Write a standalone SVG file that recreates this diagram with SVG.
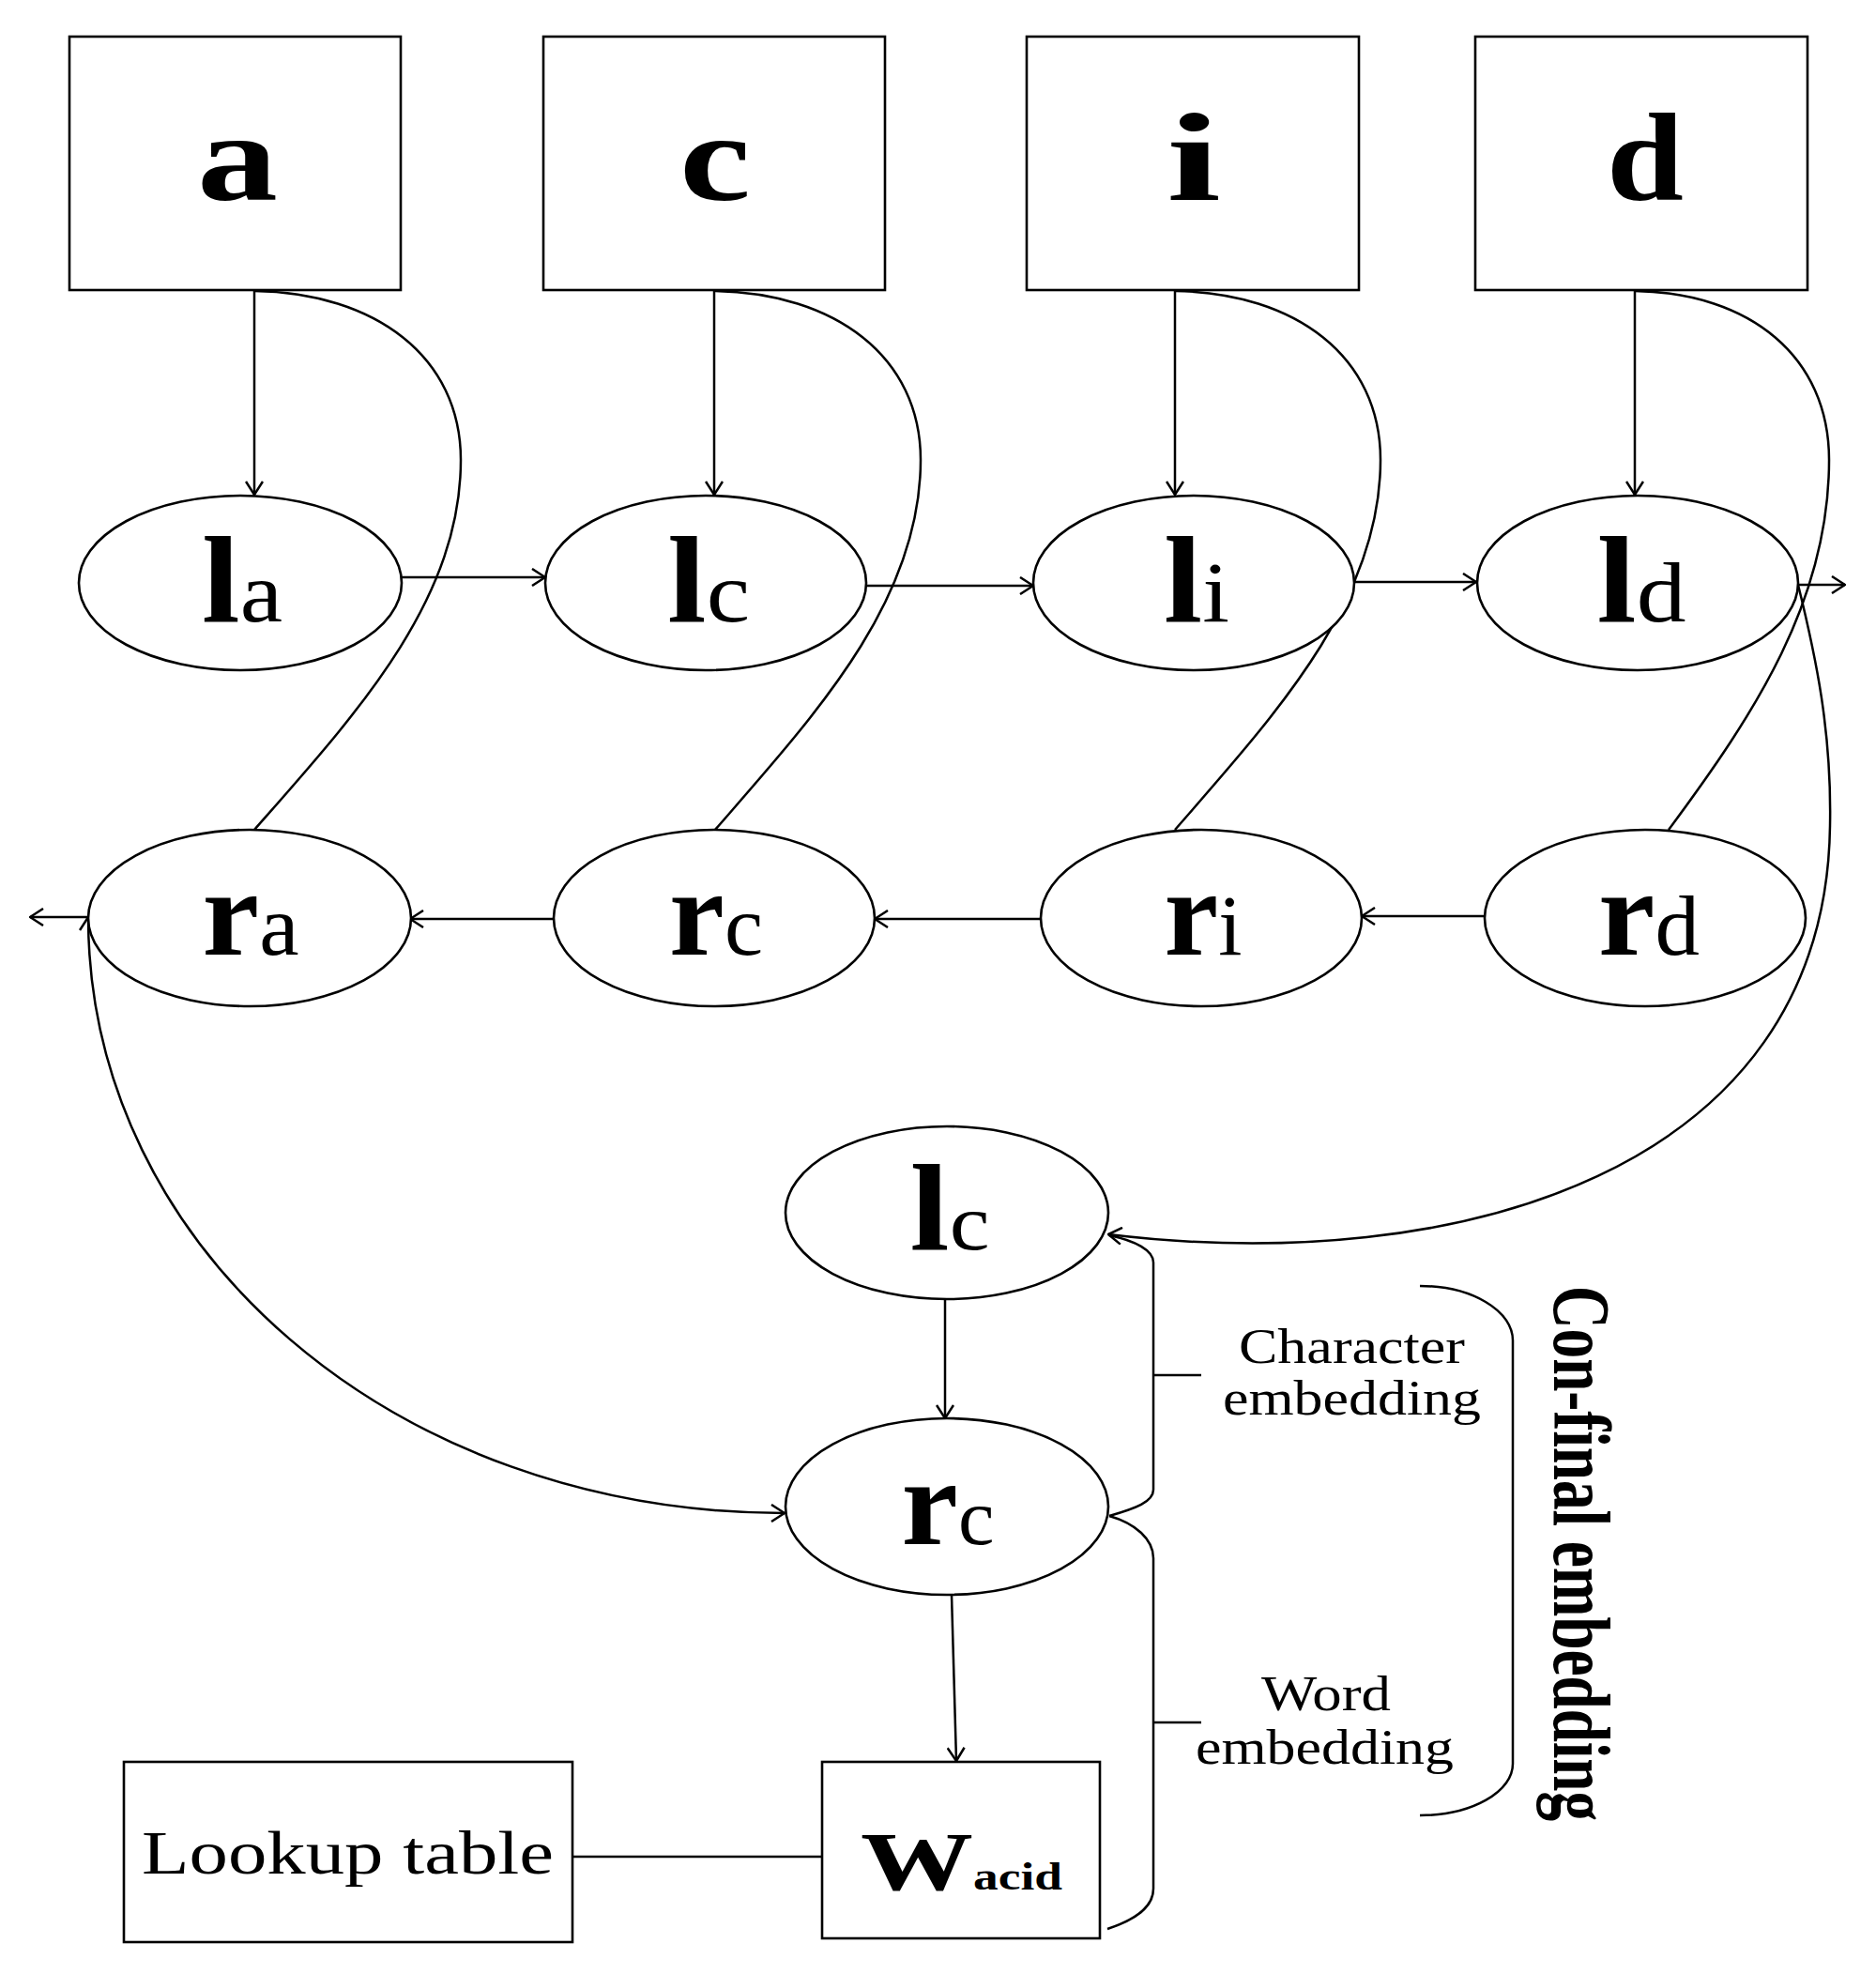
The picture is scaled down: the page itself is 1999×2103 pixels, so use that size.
<svg xmlns="http://www.w3.org/2000/svg" width="1999" height="2103" viewBox="0 0 1999 2103">
<defs>
<style>
.shape{fill:#fff;stroke:#000;stroke-width:2.6}
.ln{fill:none;stroke:#000;stroke-width:2.5}
.big{font-family:"Liberation Serif","Times New Roman",serif;font-weight:bold;font-size:133px;fill:#000}
.main{font-family:"Liberation Serif","Times New Roman",serif;font-weight:bold;font-size:132px}
.sub{font-family:"Liberation Serif","Times New Roman",serif;font-weight:normal;font-size:92px}
.lbl{font-family:"Liberation Serif","Times New Roman",serif;font-size:52px;fill:#000}
.vert{font-family:"Liberation Serif","Times New Roman",serif;font-weight:bold;font-size:86px;writing-mode:vertical-rl}
</style>
<marker id="arr" viewBox="0 0 16 20" refX="15" refY="10" markerWidth="16" markerHeight="20" markerUnits="userSpaceOnUse" orient="auto-start-reverse">
<path d="M1,1 L15,10 L1,19" fill="none" stroke="#000" stroke-width="2.5"/>
</marker>
</defs>
<rect width="1999" height="2103" fill="#fff"/>

<g id="connectors">
<path class="ln" d="M271,310 V527" marker-end="url(#arr)"/>
<path class="ln" d="M761,310 V527" marker-end="url(#arr)"/>
<path class="ln" d="M1252,310 V527" marker-end="url(#arr)"/>
<path class="ln" d="M1742,310 V527" marker-end="url(#arr)"/>
<path class="ln" d="M427,615 H581" marker-end="url(#arr)"/>
<path class="ln" d="M923,624 H1101" marker-end="url(#arr)"/>
<path class="ln" d="M1443,620 H1573" marker-end="url(#arr)"/>
<path class="ln" d="M1916,623 H1966" marker-end="url(#arr)"/>
<path class="ln" d="M1582,976 H1451" marker-end="url(#arr)"/>
<path class="ln" d="M1110,979 H932" marker-end="url(#arr)"/>
<path class="ln" d="M591,979 H437" marker-end="url(#arr)"/>
<path class="ln" d="M94,977 H32" marker-end="url(#arr)"/>
<path class="ln" d="M271,310 C400,312 491,380 491,490 C491,640 380,760 271,884"/>
<path class="ln" d="M761,310 C890,312 981,380 981,490 C981,640 870,760 762,884"/>
<path class="ln" d="M1252,310 C1381,312 1471,380 1471,490 C1471,640 1360,760 1252,884"/>
<path class="ln" d="M1742,310 C1865,312 1949,380 1949,490 C1949,640 1870,760 1778,884"/>
<path class="ln" d="M94,977 C94,1330 420,1612 836,1612" marker-start="url(#arr)" marker-end="url(#arr)"/>
<path class="ln" d="M1916,623 C1935,700 1952,780 1950,880 C1945,1250 1550,1360 1181,1315" marker-end="url(#arr)"/>
<path class="ln" d="M1007,1384 V1511" marker-end="url(#arr)"/>
<path class="ln" d="M1014,1699 L1019,1876" marker-end="url(#arr)"/>
<path class="ln" d="M610,1978 H876"/>
<path class="ln" d="M1182,1316 C1210,1322 1229,1332 1229,1345 V1587 C1229,1600 1210,1607 1182,1615"/>
<path class="ln" d="M1229,1465 H1280"/>
<path class="ln" d="M1182,1615 C1210,1623 1229,1640 1229,1660 V2012 C1229,2032 1210,2045 1180,2055"/>
<path class="ln" d="M1229,1835 H1280"/>
<path class="ln" d="M1513,1370 A99,58 0 0 1 1612,1428 V1879 A99,55 0 0 1 1513,1934"/>
</g>

<g id="box-a"><rect class="shape" x="74" y="39" width="353" height="270"/><text class="big" x="253" y="213" text-anchor="middle" textLength="86" lengthAdjust="spacingAndGlyphs">a</text></g>
<g id="box-c"><rect class="shape" x="579" y="39" width="364" height="270"/><text class="big" x="762" y="213" text-anchor="middle" textLength="76" lengthAdjust="spacingAndGlyphs">c</text></g>
<g id="box-i"><rect class="shape" x="1094" y="39" width="354" height="270"/><text class="big" x="1272" y="213" text-anchor="middle" textLength="58" lengthAdjust="spacingAndGlyphs">i</text></g>
<g id="box-d"><rect class="shape" x="1572" y="39" width="354" height="270"/><text class="big" x="1753" y="213" text-anchor="middle" textLength="82" lengthAdjust="spacingAndGlyphs">d</text></g>

<g id="node-la"><ellipse class="shape" cx="256" cy="621" rx="172" ry="93"/><text x="258" y="662" text-anchor="middle" textLength="86" lengthAdjust="spacingAndGlyphs"><tspan class="main">l</tspan><tspan class="sub">a</tspan></text></g>
<g id="node-lc"><ellipse class="shape" cx="752" cy="621" rx="171" ry="93"/><text x="755" y="662" text-anchor="middle" textLength="88" lengthAdjust="spacingAndGlyphs"><tspan class="main">l</tspan><tspan class="sub">c</tspan></text></g>
<g id="node-li"><ellipse class="shape" cx="1272" cy="621" rx="171" ry="93"/><text x="1275" y="662" text-anchor="middle" textLength="70" lengthAdjust="spacingAndGlyphs"><tspan class="main">l</tspan><tspan class="sub">i</tspan></text></g>
<g id="node-ld"><ellipse class="shape" cx="1745" cy="621" rx="171" ry="93"/><text x="1749" y="662" text-anchor="middle" textLength="95" lengthAdjust="spacingAndGlyphs"><tspan class="main">l</tspan><tspan class="sub">d</tspan></text></g>

<g id="node-ra"><ellipse class="shape" cx="266" cy="978" rx="172" ry="94"/><text x="267" y="1017" text-anchor="middle" textLength="103" lengthAdjust="spacingAndGlyphs"><tspan class="main">r</tspan><tspan class="sub">a</tspan></text></g>
<g id="node-rc"><ellipse class="shape" cx="761" cy="978" rx="171" ry="94"/><text x="763" y="1017" text-anchor="middle" textLength="100" lengthAdjust="spacingAndGlyphs"><tspan class="main">r</tspan><tspan class="sub">c</tspan></text></g>
<g id="node-ri"><ellipse class="shape" cx="1280" cy="978" rx="171" ry="94"/><text x="1282" y="1017" text-anchor="middle" textLength="83" lengthAdjust="spacingAndGlyphs"><tspan class="main">r</tspan><tspan class="sub">i</tspan></text></g>
<g id="node-rd"><ellipse class="shape" cx="1753" cy="978" rx="171" ry="94"/><text x="1757" y="1017" text-anchor="middle" textLength="108" lengthAdjust="spacingAndGlyphs"><tspan class="main">r</tspan><tspan class="sub">d</tspan></text></g>

<g id="node-lc2"><ellipse class="shape" cx="1009" cy="1292" rx="172" ry="92"/><text x="1012" y="1331" text-anchor="middle" textLength="85" lengthAdjust="spacingAndGlyphs"><tspan class="main">l</tspan><tspan class="sub" style="font-size:84px">c</tspan></text></g>
<g id="node-rc2"><ellipse class="shape" cx="1009" cy="1605" rx="172" ry="94"/><text x="1010" y="1645" text-anchor="middle" textLength="99" lengthAdjust="spacingAndGlyphs"><tspan class="main">r</tspan><tspan class="sub" style="font-size:84px">c</tspan></text></g>

<g id="node-lookup"><rect class="shape" x="132" y="1877" width="478" height="192"/><text class="lbl" x="151" y="1996" style="font-size:65px" textLength="439" lengthAdjust="spacingAndGlyphs">Lookup table</text></g>
<g id="node-wacid"><rect class="shape" x="876" y="1877" width="296" height="188"/><text x="917" y="2013" style="font-family:'Liberation Serif','Times New Roman',serif;font-weight:bold;font-size:89px" textLength="120" lengthAdjust="spacingAndGlyphs">W</text><text x="1037" y="2013" style="font-family:'Liberation Serif','Times New Roman',serif;font-weight:bold;font-size:43px" textLength="95" lengthAdjust="spacingAndGlyphs">acid</text></g>

<g id="labels">
<text class="lbl" x="1320" y="1452" textLength="241" lengthAdjust="spacingAndGlyphs">Character</text>
<text class="lbl" x="1303" y="1507" textLength="275" lengthAdjust="spacingAndGlyphs">embedding</text>
<text class="lbl" x="1344" y="1822" textLength="138" lengthAdjust="spacingAndGlyphs">Word</text>
<text class="lbl" x="1274" y="1879" textLength="275" lengthAdjust="spacingAndGlyphs">embedding</text>
<text class="vert" x="1685" y="1370" textLength="570" lengthAdjust="spacingAndGlyphs">Con-final embedding</text>
</g>
</svg>
